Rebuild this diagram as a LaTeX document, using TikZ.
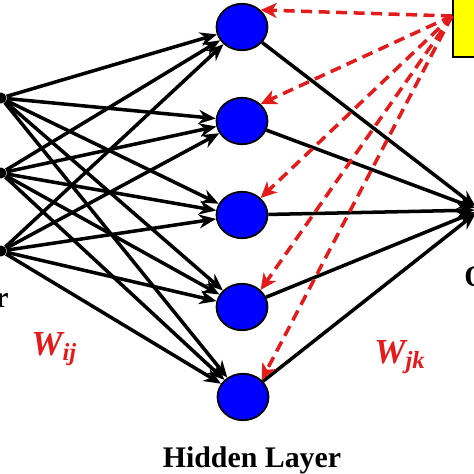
\documentclass[tikz,border=0pt]{standalone}
\usepackage{fontspec}
\setmainfont{Liberation Serif}
\usetikzlibrary{arrows.meta, shapes.geometric}
\definecolor{nodeblue}{HTML}{0000FF}
\definecolor{wred}{HTML}{E41B1B}
\definecolor{boxyellow}{HTML}{FFFF00}

\begin{document}
\begin{tikzpicture}[
    x=0.02cm, y=-0.02cm,
    input/.style={circle, fill=black, inner sep=0pt, minimum size=0.22cm},
    hidden/.style={ellipse, draw=black, line width=1pt, fill=nodeblue, inner sep=0pt, minimum width=1.02cm, minimum height=0.93cm},
    output/.style={circle, fill=black, inner sep=0pt, minimum size=0.2cm},
    fbbox/.style={draw=black, line width=1.3pt, fill=boxyellow, minimum width=1.6cm, minimum height=1.8cm},
    arrow/.style={-{Stealth[length=0.34cm, width=0.28cm]}, line width=2pt, draw=black},
    fback/.style={-{Stealth[length=0.32cm, width=0.3cm, inset=0.09cm]}, line width=2pt, draw=wred, dash pattern=on 0.22cm off 0.13cm},
    lbl/.style={font=\fontsize{17}{20}\selectfont\bfseries, inner sep=0pt},
    wlbl/.style={font=\fontsize{20}{24}\selectfont\bfseries\itshape, text=wred, inner sep=0pt}
]
    \useasboundingbox (0,0) rectangle (474,474);

    % Input Layer
    \node[input] (in1) at (1,98) {};
    \node[input] (in2) at (1,173) {};
    \node[input] (in3) at (1,251) {};

    % Hidden Layer
    \node[hidden] (h1) at (242,27) {};
    \node[hidden] (h2) at (242,121) {};
    \node[hidden] (h3) at (242,215) {};
    \node[hidden] (h4) at (242,307) {};
    \node[hidden] (h5) at (243,397) {};

    % Output Layer
    \node[output] (out) at (480,210) {};

    % Feedback box
    \node[fbbox] (fb) at (493,12) {};
    \coordinate (src) at (452,16);

    % Input to hidden
    \draw[arrow] (in1) -- (h1);
    \draw[arrow] (in1) -- (h2);
    \draw[arrow] (in1) -- (h3);
    \draw[arrow] (in1) -- (h4);
    \draw[arrow] (in1) -- (h5);
    \draw[arrow] (in2) -- (h1);
    \draw[arrow] (in2) -- (h2);
    \draw[arrow] (in2) -- (h3);
    \draw[arrow] (in2) -- (h4);
    \draw[arrow] (in2) -- (h5);
    \draw[arrow] (in3) -- (h1);
    \draw[arrow] (in3) -- (h2);
    \draw[arrow] (in3) -- (h3);
    \draw[arrow] (in3) -- (h4);
    \draw[arrow] (in3) -- (h5);

    % Hidden to output
    \draw[arrow] (h1) -- (out);
    \draw[arrow] (h2) -- (out);
    \draw[arrow] (h3) -- (out);
    \draw[arrow] (h4) -- (out);
    \draw[arrow] (h5) -- (out);

    % Feedback arrows
    \draw[fback] (src) -- (h1.north east);
    \draw[fback] (src) -- (h2.north east);
    \draw[fback] (src) -- (h3.north east);
    \draw[fback] (src) -- (h4.north east);
    \draw[fback] (src) -- (h5.north east);

    % Layer labels
    \node[lbl, anchor=base east] (inlbl) at (9,307) {Input Layer};
    \node[lbl, anchor=base] (hidlbl) at (252,467) {Hidden Layer};
    \node[lbl, anchor=base west] (outlbl) at (464,286) {Output};

    % Weight labels
    \node[wlbl, anchor=base west] (wij) at (31,355) {W\textsubscript{ij}};
    \node[wlbl, anchor=base west] (wjk) at (374,363) {W\textsubscript{jk}};
\end{tikzpicture}
\end{document}
